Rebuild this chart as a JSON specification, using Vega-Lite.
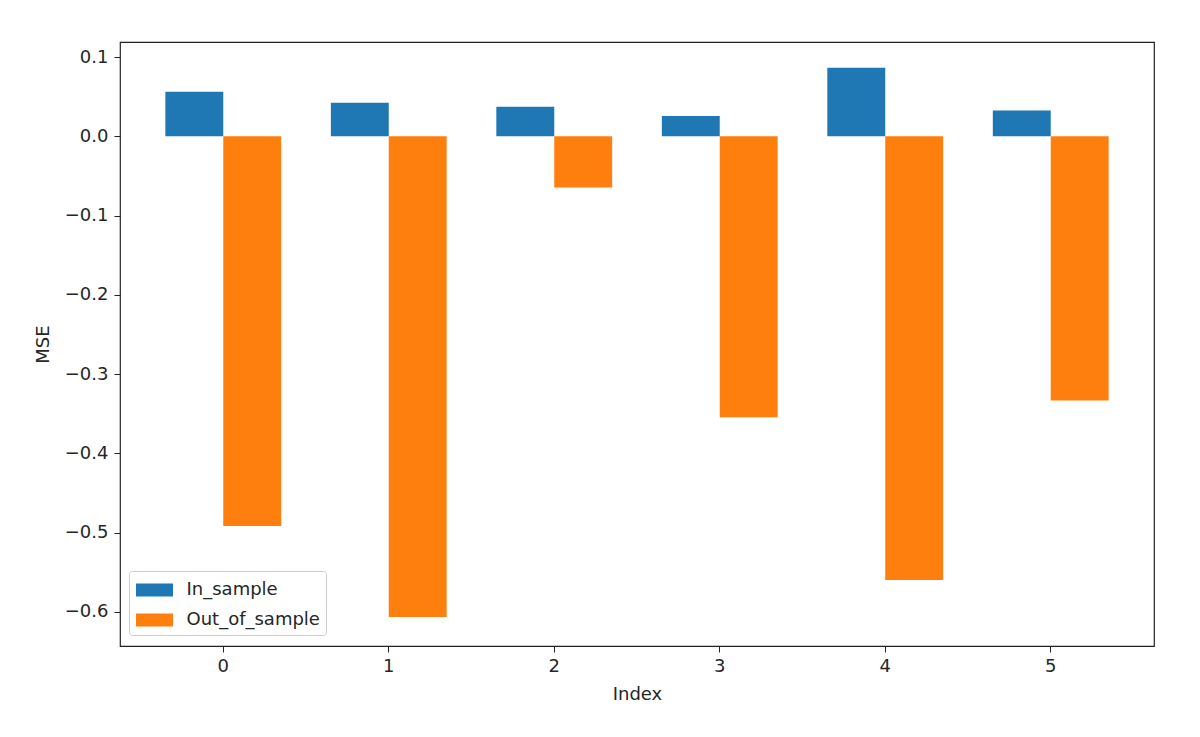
{
  "$schema": "https://vega.github.io/schema/vega-lite/v6.json",
  "autosize": "none",
  "width": 1034,
  "height": 604,
  "padding": {"left": 120, "top": 42, "right": 46, "bottom": 91},
  "background": "white",
  "data": {"values": [
    {"index": "0", "series": "In_sample", "MSE": 0.0562},
    {"index": "0", "series": "Out_of_sample", "MSE": -0.4917},
    {"index": "1", "series": "In_sample", "MSE": 0.0423},
    {"index": "1", "series": "Out_of_sample", "MSE": -0.6063},
    {"index": "2", "series": "In_sample", "MSE": 0.0373},
    {"index": "2", "series": "Out_of_sample", "MSE": -0.0647},
    {"index": "3", "series": "In_sample", "MSE": 0.0256},
    {"index": "3", "series": "Out_of_sample", "MSE": -0.3544},
    {"index": "4", "series": "In_sample", "MSE": 0.0864},
    {"index": "4", "series": "Out_of_sample", "MSE": -0.5597},
    {"index": "5", "series": "In_sample", "MSE": 0.0327},
    {"index": "5", "series": "Out_of_sample", "MSE": -0.3334}
  ]},
  "mark": {"type": "bar", "stroke": null},
  "encoding": {
    "x": {
      "field": "index", "type": "ordinal", "title": "Index",
      "scale": {"paddingInner": 0.3, "paddingOuter": 0.274},
      "axis": {"labelAngle": 0, "domain": false, "tickColor": "#222", "tickSize": 6, "labelPadding": 5, "titlePadding": 10}
    },
    "xOffset": {
      "field": "series", "type": "nominal",
      "scale": {"paddingInner": 0, "paddingOuter": 0}
    },
    "y": {
      "field": "MSE", "type": "quantitative", "title": "MSE",
      "scale": {"domain": [-0.643, 0.119], "nice": false, "zero": false},
      "axis": {"values": [-0.6, -0.5, -0.4, -0.3, -0.2, -0.1, 0, 0.1], "format": ".1f", "grid": false, "domain": false, "tickColor": "#222", "tickSize": 6, "labelPadding": 6, "titlePadding": 12}
    },
    "color": {
      "field": "series", "type": "nominal",
      "scale": {"domain": ["In_sample", "Out_of_sample"], "range": ["#1f77b4", "#ff7f0e"]},
      "legend": {
        "title": null,
        "orient": "none",
        "legendX": 9,
        "legendY": 529,
        "symbolType": "M-1.423,-0.5L1.423,-0.5L1.423,0.5L-1.423,0.5Z",
        "symbolSize": 676,
        "symbolStrokeWidth": 0,
        "symbolOffset": 6.5,
        "labelFontSize": 18,
        "labelFont": "DejaVu Sans",
        "labelColor": "#262626",
        "labelOffset": 19,
        "rowPadding": 8,
        "padding": 6,
        "strokeColor": "#cccccc",
        "fillColor": "white",
        "cornerRadius": 3
      }
    }
  },
  "config": {
    "font": "DejaVu Sans",
    "view": {"stroke": "#222", "strokeWidth": 1.2},
    "axis": {
      "labelFont": "DejaVu Sans", "labelFontSize": 18, "labelColor": "#262626",
      "titleFont": "DejaVu Sans", "titleFontSize": 18, "titleFontWeight": "normal", "titleColor": "#262626"
    }
  }
}
